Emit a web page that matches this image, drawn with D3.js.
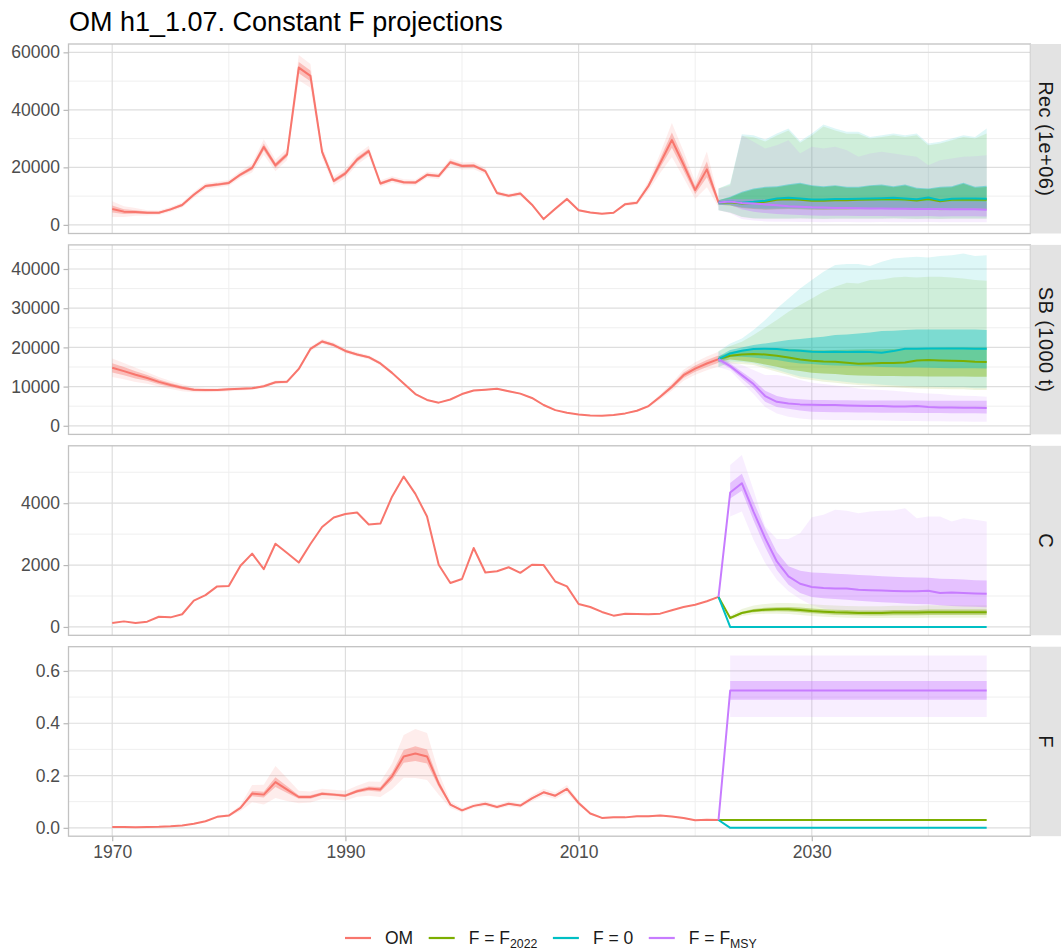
<!DOCTYPE html>
<html>
<head>
<meta charset="utf-8">
<script src="https://cdn.jsdelivr.net/npm/d3@7"></script>
<style>
  body { margin: 0; background: #fff; }
  svg { display: block; }
  text { font-family: "Liberation Sans", Arial, Helvetica, sans-serif; }
</style>
</head>
<body>
<svg id="chart" width="1061" height="951"></svg>
<script>
// ---------------- data ----------------
const histYears = d3.range(1970, 2023);   // operating model years
const projYears = d3.range(2022, 2046);   // projection years (2022 = start state)

// Operating model medians
const omRec = [5500,4600,4500,4200,4200,5400,6900,10500,13500,14000,
  14600,17500,19800,27100,20700,24500,54700,51800,25400,15300,
  17900,22700,25700,14400,15800,14800,14700,17400,17000,21800,
  20500,20600,18700,11100,10100,10900,7000,2000,5600,9000,
  5100,4300,3900,4200,7200,7700,13600,21500,29500,21000,
  12100,19300,7800];
const omSB = [14800,13950,13000,12200,11200,10400,9700,9200,9100,9100,
  9300,9450,9550,10100,11100,11250,14500,19600,21500,20600,
  19100,18200,17500,15900,13500,10800,8100,6600,5900,6700,
  8100,9000,9200,9450,8800,8200,7100,5300,4000,3300,
  2900,2650,2570,2740,3160,3830,5030,7400,9950,12900,
  14600,15900,17000];
const omC = [130,180,125,170,330,310,410,850,1030,1310,
  1320,1980,2370,1870,2690,2390,2080,2680,3230,3540,
  3650,3700,3310,3340,4210,4860,4300,3570,2010,1420,
  1550,2550,1760,1800,1930,1750,2010,2000,1470,1310,
  740,645,485,365,430,420,410,430,540,645,
  720,830,970];
const omF = [0.003,0.003,0.002,0.003,0.004,0.006,0.009,0.016,0.025,0.042,
  0.047,0.076,0.131,0.127,0.175,0.146,0.118,0.118,0.130,0.127,
  0.123,0.140,0.150,0.147,0.197,0.273,0.284,0.273,0.169,0.089,
  0.067,0.084,0.092,0.080,0.092,0.085,0.113,0.136,0.123,0.149,
  0.095,0.055,0.038,0.040,0.040,0.044,0.044,0.047,0.043,0.038,
  0.029,0.031,0.030];

// Relative half-width of the operating model's outer uncertainty band
const omRecSpread = [0.5,0.4,0.3,0.22,0.18,0.15,0.13,0.1,0.08,0.07,
  0.07,0.07,0.08,0.1,0.1,0.08,0.08,0.08,0.08,0.1,
  0.09,0.08,0.07,0.08,0.07,0.07,0.07,0.06,0.06,0.06,
  0.06,0.06,0.06,0.07,0.07,0.07,0.08,0.15,0.1,0.08,
  0.08,0.08,0.08,0.08,0.08,0.1,0.12,0.16,0.2,0.22,
  0.25,0.32,0.2];
const omSBSpread = [0.16,0.15,0.14,0.12,0.11,0.1,0.09,0.07,0.06,0.05,
  0.05,0.045,0.04,0.04,0.04,0.04,0.035,0.03,0.03,0.03,
  0.03,0.03,0.03,0.03,0.03,0.03,0.03,0.03,0.03,0.03,
  0.03,0.03,0.03,0.03,0.03,0.03,0.035,0.035,0.04,0.04,
  0.04,0.045,0.045,0.045,0.05,0.06,0.07,0.09,0.1,0.11,
  0.11,0.11,0.11];
const omFSpread = [0.1,0.1,0.1,0.1,0.1,0.1,0.1,0.1,0.1,0.1,
  0.1,0.15,0.25,0.3,0.35,0.3,0.2,0.18,0.15,0.15,
  0.15,0.15,0.18,0.2,0.25,0.3,0.33,0.33,0.25,0.15,
  0.12,0.1,0.1,0.1,0.1,0.1,0.1,0.1,0.1,0.1,
  0.1,0.08,0.08,0.08,0.08,0.08,0.08,0.08,0.08,0.08,
  0.08,0.08,0.08];

// Projections, 2022-2045: median and 25/75 and 5/95 percentiles
const recF2022 = {
  q50: [7800,7900,7400,7600,8000,8700,8900,8700,8400,8400,8600,8600,8700,8800,8900,9000,8800,8500,9000,8200,8700,8700,8800,8700],
  q25: [7000,6700,5900,5500,5300,5400,5500,5400,5300,5200,5300,5300,5400,5400,5500,5500,5400,5200,5500,5100,5300,5400,5400,5300],
  q75: [8600,9500,11200,12300,12900,13100,13800,14300,13500,13100,13500,12900,12900,13500,13700,13100,13700,12600,12400,12900,13100,14300,12900,13200],
  q05: [5100,4200,2700,2200,2100,2150,2100,2200,2100,2050,2100,2150,2100,2100,2150,2200,2100,2050,2150,2000,2100,2150,2100,2100],
  q95: [12650,14000,30900,30500,29000,31100,32800,28600,31100,34200,32800,31700,31700,30000,30600,31200,30600,31200,27700,28300,29400,30600,30000,31800]
};
const recF0 = {
  q50: [7800,8100,7700,8000,8400,9200,9400,9200,8800,8800,9000,9000,9100,9200,9300,9400,9200,8900,9500,8600,9100,9200,9200,9100],
  q25: [7000,6900,6100,5800,5600,5700,5800,5700,5600,5500,5600,5600,5700,5700,5800,5800,5700,5500,5800,5400,5600,5700,5700,5600],
  q75: [8600,9740,11480,12650,13220,13450,14150,14620,13800,13450,13800,13220,13220,13800,14030,13450,14030,12880,12650,13220,13450,14620,13220,13570],
  q05: [5100,4300,2800,2300,2200,2250,2200,2300,2200,2150,2200,2250,2200,2200,2250,2300,2200,2150,2250,2100,2200,2250,2200,2200],
  q95: [12650,14390,31550,31200,29700,31800,33500,29200,31800,34900,33500,32350,32350,30600,31200,31800,31200,31800,28300,28900,30000,31200,30600,33500]
};
const recFmsy = {
  q50: [7800,8100,7600,7400,7100,6800,6500,6300,6100,6000,5900,5900,5800,5700,5700,5600,5600,5500,5500,5500,5400,5400,5400,5300],
  q25: [7000,6900,5400,4600,4100,3800,3600,3400,3300,3200,3200,3200,3100,3100,3100,3000,3000,3000,3100,2900,3000,3000,3000,2900],
  q75: [8600,9000,8900,8900,8800,8700,8700,8600,8500,8500,8400,8400,8400,8300,8300,8300,8200,8100,8300,8000,8100,8100,8100,8000],
  q05: [5100,4000,2000,1500,1200,1100,1050,1000,1000,950,1000,1000,950,950,1000,950,950,900,1000,900,950,950,950,900],
  q95: [12650,13500,31200,28900,26550,27700,29460,24820,27130,26550,27130,25980,23650,24820,25400,24820,24240,23650,20760,22500,23070,23650,23880,24240]
};

const sbF2022 = {
  q50: [17000,17860,18200,18290,18200,17860,17440,16930,16590,16420,16330,16070,15820,15900,15990,15990,16160,16680,16760,16680,16590,16500,16330,16250],
  q25: [16300,16930,16600,16180,15650,15050,14370,13950,13520,13350,13200,12930,12800,12750,12700,12700,12650,12650,12600,12600,12550,12550,12500,12500],
  q75: [17700,18800,19310,19650,19740,19740,19650,19500,19310,19300,19350,19400,19450,19500,19550,19600,19700,19800,19850,19900,19950,20000,20000,20000],
  q05: [15000,15920,15750,15480,14630,13780,12930,12090,11660,11220,11000,10640,10380,10200,9950,9800,9650,9530,9450,9400,9350,9300,9100,9100],
  q95: [19000,20330,21430,23140,25100,26960,29080,30790,32500,34180,35460,36480,36310,37170,37340,37850,38020,37850,38020,38020,37850,37600,37170,37000]
};
const sbF0 = {
  q50: [17000,18460,19130,19570,19650,19570,19300,19130,18880,18800,18880,18800,18880,18800,18630,19050,19650,19650,19740,19740,19740,19740,19650,19650],
  q25: [16300,17600,17600,17400,17100,16760,16300,15920,15750,15480,15400,15300,15200,15100,15000,14950,14900,14850,14800,14750,14700,14700,14650,14630],
  q75: [17700,19310,20000,20590,21020,21430,21860,22120,22450,22710,23140,23310,23570,23820,24160,24240,24410,24590,24590,24590,24590,24590,24590,24410],
  q05: [15000,16400,16250,15980,15130,14280,13430,12590,12160,11720,11500,11140,10880,10700,10450,10300,10150,10030,9950,9900,9850,9800,9600,9600],
  q95: [19000,21020,22290,24410,26960,29950,32500,35050,37170,39290,41000,41250,41250,40740,41840,42700,42950,43120,42950,43290,43540,43970,43290,43540]
};
const sbFmsy = {
  q50: [17000,15230,12930,10640,7580,6120,5710,5460,5370,5290,5290,5200,5120,5030,5030,4950,4950,5030,4780,4690,4690,4610,4610,4520],
  q25: [16300,14630,12090,9530,6120,4780,4350,3920,3570,3500,3450,3420,3400,3380,3350,3330,3300,3280,3260,3240,3220,3200,3180,3160],
  q75: [17700,15920,13780,11660,8930,7580,6990,6740,6570,6550,6530,6500,6480,6460,6450,6440,6430,6420,6410,6400,6400,6400,6400,6400],
  q05: [15000,14040,11000,8080,4780,3160,2300,1870,1620,1550,1500,1450,1400,1380,1350,1300,1250,1200,1180,1150,1100,1080,1050,1020],
  q95: [19000,16330,15480,14210,12930,12930,12500,11660,11000,10640,10300,9950,9530,9280,9100,8930,8680,8420,8250,8080,7820,7650,7570,7400]
};

const cF2022 = {
  q50: [970,290,452,527,559,570,570,548,516,495,473,463,452,452,452,463,463,463,473,473,473,473,473,473],
  q25: [null,262,415,478,500,505,500,478,445,420,398,388,375,373,372,380,380,382,388,388,388,388,388,388],
  q75: [null,320,490,580,620,640,645,625,595,575,555,545,535,535,535,545,548,550,560,560,562,562,562,562],
  q05: [null,225,350,410,425,425,415,390,355,330,310,300,290,288,287,293,292,293,298,298,298,297,297,297],
  q95: [null,360,580,690,745,770,775,760,730,710,690,680,670,670,672,682,685,688,698,698,700,700,700,702]
};
const cF0 = {
  q50: [970,0,0,0,0,0,0,0,0,0,0,0,0,0,0,0,0,0,0,0,0,0,0,0]
};
const cFmsy = {
  q50: [970,4343,4645,3730,2870,2117,1634,1397,1290,1258,1245,1240,1203,1185,1175,1160,1150,1150,1170,1097,1110,1100,1085,1075],
  q25: [null,4150,4400,3450,2580,1840,1360,1100,970,930,900,880,850,820,800,780,760,740,730,700,680,660,650,640],
  q75: [null,4650,4950,4050,3180,2420,1960,1820,1760,1740,1720,1700,1680,1660,1640,1620,1610,1600,1590,1560,1550,1530,1510,1500],
  q05: [null,3569,3730,2817,2065,1526,1150,900,700,600,550,520,500,480,470,460,450,445,440,435,430,425,420,420],
  q95: [null,5236,5558,4430,3246,2839,2839,3032,3548,3623,3784,3752,3677,3730,3752,3763,3838,3516,3570,3570,3409,3516,3462,3409]
};

const fF2022 = {
  q50: [0.030,0.030,0.030,0.030,0.030,0.030,0.030,0.030,0.030,0.030,0.030,0.030,0.030,0.030,0.030,0.030,0.030,0.030,0.030,0.030,0.030,0.030,0.030,0.030]
};
const fF0 = {
  q50: [0.030,0,0,0,0,0,0,0,0,0,0,0,0,0,0,0,0,0,0,0,0,0,0,0]
};
const fFmsy = {
  q50: [0.030,0.525,0.525,0.525,0.525,0.525,0.525,0.525,0.525,0.525,0.525,0.525,0.525,0.525,0.525,0.525,0.525,0.525,0.525,0.525,0.525,0.525,0.525,0.525],
  q25: [null,0.490,0.490,0.490,0.490,0.490,0.490,0.490,0.490,0.490,0.490,0.490,0.490,0.490,0.490,0.490,0.490,0.490,0.490,0.490,0.490,0.490,0.490,0.490],
  q75: [null,0.562,0.562,0.562,0.562,0.562,0.562,0.562,0.562,0.562,0.562,0.562,0.562,0.562,0.562,0.562,0.562,0.562,0.562,0.562,0.562,0.562,0.562,0.562],
  q05: [null,0.424,0.424,0.424,0.424,0.424,0.424,0.424,0.424,0.424,0.424,0.424,0.424,0.424,0.424,0.424,0.424,0.424,0.424,0.424,0.424,0.424,0.424,0.424],
  q95: [null,0.659,0.659,0.659,0.659,0.659,0.659,0.659,0.659,0.659,0.659,0.659,0.659,0.659,0.659,0.659,0.659,0.659,0.659,0.659,0.659,0.659,0.659,0.659]
};

// Axis breaks
const xTicks = [1970, 1990, 2010, 2030];
const xMinor = [1980, 2000, 2020, 2040];
const recTicks = [0, 20000, 40000, 60000];
const sbTicks = [0, 10000, 20000, 30000, 40000];
const cTicks = [0, 2000, 4000];
const fTicks = [0, 0.2, 0.4, 0.6];

const stripLabels = ["Rec (1e+06)", "SB (1000 t)", "C", "F"];
const titleText = "OM h1_1.07. Constant F projections";

const scenarioKeys = ["F2022", "F0", "FMSY"];
const colors = { OM: "#F8766D", F2022: "#7CAE00", F0: "#00BFC4", FMSY: "#C77CFF" };
const legendItems = [
  { key: "OM", text: "OM", sub: "" },
  { key: "F2022", text: "F = F", sub: "2022" },
  { key: "F0", text: "F = 0", sub: "" },
  { key: "FMSY", text: "F = F", sub: "MSY" }
];

const panels = [
  { strip: stripLabels[0], domain: [-3000, 62900], ticks: recTicks, fmt: d3.format("d"),
    om: omRec, spread: omRecSpread, innerK: 0.45, proj: { F2022: recF2022, F0: recF0, FMSY: recFmsy } },
  { strip: stripLabels[1], domain: [-2200, 46150], ticks: sbTicks, fmt: d3.format("d"),
    om: omSB, spread: omSBSpread, innerK: 0.5, proj: { F2022: sbF2022, F0: sbF0, FMSY: sbFmsy } },
  { strip: stripLabels[2], domain: [-270, 5855], ticks: cTicks, fmt: d3.format("d"),
    om: omC, spread: null, innerK: 0, proj: { F2022: cF2022, F0: cF0, FMSY: cFmsy } },
  { strip: stripLabels[3], domain: [-0.032, 0.6927], ticks: fTicks, fmt: d3.format(".1f"),
    om: omF, spread: omFSpread, innerK: 0.3, proj: { F2022: fF2022, F0: fF0, FMSY: fFmsy } }
];

// ---------------- layout ----------------
const svg = d3.select("#chart");
const left = 68.5, right = 1030.4, stripW = 30.6;
const panelTops = [44, 244.9, 445.8, 646.7];
const panelH = 189.5;
const x = d3.scaleLinear().domain([1966.25, 2048.75]).range([left, right]);

const outerAlpha = 0.13, innerAlpha = 0.4, lineW = 2;
const defs = svg.append("defs");

svg.append("text")
  .attr("x", 69).attr("y", 31)
  .attr("font-size", 27).attr("fill", "#000")
  .text(titleText);

panels.forEach((p, i) => {
  const top = panelTops[i], bot = top + panelH;
  const y = d3.scaleLinear().domain(p.domain).range([bot, top]);
  const clipId = "panel-clip-" + i;
  defs.append("clipPath").attr("id", clipId)
    .append("rect").attr("x", left).attr("y", top).attr("width", right - left).attr("height", panelH);

  const g = svg.append("g");
  g.append("rect").attr("x", left).attr("y", top).attr("width", right - left).attr("height", panelH).attr("fill", "#fff");

  // minor grid: midpoints between major breaks
  const step = p.ticks[1] - p.ticks[0];
  const yMinor = [];
  for (let k = 0; k <= p.ticks.length; k++) {
    const v = p.ticks[0] + step * (k + 0.5) - step;
    if (v > p.domain[0] && v < p.domain[1]) yMinor.push(v);
  }
  const grid = g.append("g");
  grid.selectAll(".ymin").data(yMinor).join("line")
    .attr("x1", left).attr("x2", right).attr("y1", d => y(d)).attr("y2", d => y(d))
    .attr("stroke", "#EFEFEF").attr("stroke-width", 1);
  grid.selectAll(".xmin").data(xMinor).join("line")
    .attr("x1", d => x(d)).attr("x2", d => x(d)).attr("y1", top).attr("y2", bot)
    .attr("stroke", "#EFEFEF").attr("stroke-width", 1);
  grid.selectAll(".ymaj").data(p.ticks).join("line")
    .attr("x1", left).attr("x2", right).attr("y1", d => y(d)).attr("y2", d => y(d))
    .attr("stroke", "#DEDEDE").attr("stroke-width", 1.2);
  grid.selectAll(".xmaj").data(xTicks).join("line")
    .attr("x1", d => x(d)).attr("x2", d => x(d)).attr("y1", top).attr("y2", bot)
    .attr("stroke", "#DEDEDE").attr("stroke-width", 1.2);

  const marks = g.append("g").attr("clip-path", `url(#${clipId})`);
  const area = d3.area().defined(d => d.lo != null && d.hi != null)
    .x(d => x(d.yr)).y0(d => y(d.lo)).y1(d => y(d.hi));
  const line = d3.line().x(d => x(d.yr)).y(d => y(d.v));

  // operating model bands
  if (p.spread) {
    const outer = histYears.map((yr, k) => ({ yr, lo: p.om[k] * (1 - p.spread[k]), hi: p.om[k] * (1 + p.spread[k]) }));
    const inner = histYears.map((yr, k) => ({ yr, lo: p.om[k] * (1 - p.spread[k] * p.innerK), hi: p.om[k] * (1 + p.spread[k] * p.innerK) }));
    marks.append("path").attr("d", area(outer)).attr("fill", colors.OM).attr("fill-opacity", outerAlpha);
    marks.append("path").attr("d", area(inner)).attr("fill", colors.OM).attr("fill-opacity", innerAlpha);
  }

  // projection bands: all 90% bands, then all 50% bands
  const band = (s, loKey, hiKey) => projYears.map((yr, k) => ({
    yr, lo: s[loKey] ? s[loKey][k] : null, hi: s[hiKey] ? s[hiKey][k] : null }));
  scenarioKeys.forEach(key => {
    const s = p.proj[key];
    if (s.q05) marks.append("path").attr("d", area(band(s, "q05", "q95")))
      .attr("fill", colors[key]).attr("fill-opacity", outerAlpha);
  });
  scenarioKeys.forEach(key => {
    const s = p.proj[key];
    if (s.q25) marks.append("path").attr("d", area(band(s, "q25", "q75")))
      .attr("fill", colors[key]).attr("fill-opacity", innerAlpha);
  });

  // median lines
  marks.append("path").attr("d", line(histYears.map((yr, k) => ({ yr, v: p.om[k] }))))
    .attr("fill", "none").attr("stroke", colors.OM).attr("stroke-width", lineW).attr("stroke-linejoin", "round");
  scenarioKeys.forEach(key => {
    const s = p.proj[key];
    marks.append("path").attr("d", line(projYears.map((yr, k) => ({ yr, v: s.q50[k] }))))
      .attr("fill", "none").attr("stroke", colors[key]).attr("stroke-width", lineW).attr("stroke-linejoin", "round");
  });

  // panel border
  g.append("rect").attr("x", left).attr("y", top).attr("width", right - left).attr("height", panelH)
    .attr("fill", "none").attr("stroke", "#C2C2C2").attr("stroke-width", 1.3);

  // y axis
  const yAxis = d3.axisLeft(y).tickValues(p.ticks).tickFormat(p.fmt).tickSize(5).tickPadding(3.5);
  const ya = svg.append("g").attr("transform", `translate(${left},0)`).call(yAxis);
  ya.select(".domain").remove();
  ya.selectAll(".tick line").attr("stroke", "#B8B8B8").attr("stroke-width", 1.2);
  ya.selectAll(".tick text").attr("font-size", 17.5).attr("fill", "#4D4D4D")
    .attr("font-family", "'Liberation Sans', Arial, Helvetica, sans-serif");

  // strip on the right
  svg.append("rect").attr("x", right).attr("y", top).attr("width", stripW).attr("height", panelH).attr("fill", "#E3E3E3");
  svg.append("text")
    .attr("transform", `translate(${right + stripW / 2},${top + panelH / 2}) rotate(90)`)
    .attr("text-anchor", "middle").attr("dominant-baseline", "central")
    .attr("font-size", 20).attr("letter-spacing", 0.4).attr("fill", "#1A1A1A")
    .text(p.strip);

  // x axis only under the bottom panel
  if (i === panels.length - 1) {
    const xAxis = d3.axisBottom(x).tickValues(xTicks).tickFormat(d3.format("d")).tickSize(5).tickPadding(4);
    const xa = svg.append("g").attr("transform", `translate(0,${bot})`).call(xAxis);
    xa.select(".domain").remove();
    xa.selectAll(".tick line").attr("stroke", "#B8B8B8").attr("stroke-width", 1.2);
    xa.selectAll(".tick text").attr("font-size", 17.5).attr("fill", "#4D4D4D")
      .attr("font-family", "'Liberation Sans', Arial, Helvetica, sans-serif");
  }
});

// ---------------- legend ----------------
const legend = svg.append("g");
let lx = 345;
const ly = 938;
legendItems.forEach(item => {
  legend.append("line").attr("x1", lx).attr("x2", lx + 26).attr("y1", ly).attr("y2", ly)
    .attr("stroke", colors[item.key]).attr("stroke-width", 2.2);
  const t = legend.append("text").attr("x", lx + 40).attr("y", ly + 6.3)
    .attr("font-size", 17.5).attr("fill", "#1A1A1A");
  t.append("tspan").text(item.text);
  if (item.sub) t.append("tspan").attr("font-size", 12.3).attr("dy", 4).text(item.sub);
  lx = lx + 40 + t.node().getComputedTextLength() + 15.5;
});
</script>
</body>
</html>
